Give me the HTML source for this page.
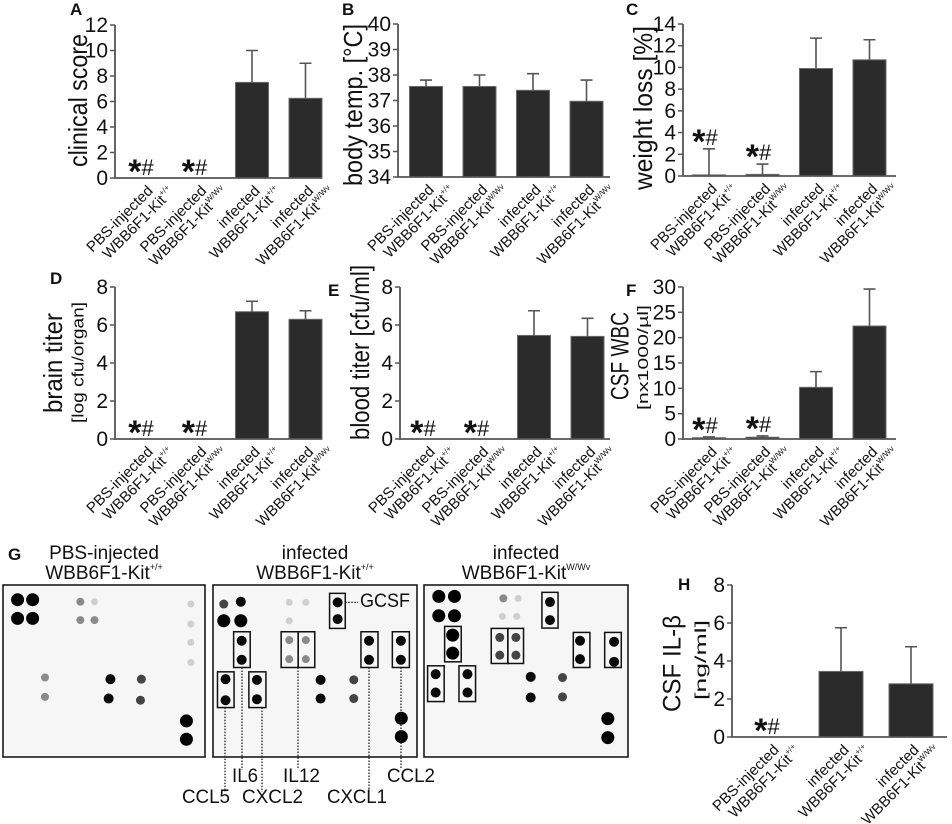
<!DOCTYPE html>
<html><head><meta charset="utf-8">
<style>
html,body{margin:0;padding:0;background:#fff;}
svg{display:block;font-family:"Liberation Sans",Arial,sans-serif;}
</style></head>
<body>
<svg id="fig" width="952" height="824" viewBox="0 0 952 824" xmlns="http://www.w3.org/2000/svg">
<rect x="0" y="0" width="952" height="824" fill="#ffffff"/>
</svg>
<script>
// ---- chart data ----
const groupLine1 = ["PBS-injected","PBS-injected","infected","infected"];
const groupSup = ["+/+","W/Wv","+/+","W/Wv"];
const hLine1 = ["PBS-injected","infected","infected"];
const hSup = ["+/+","+/+","W/Wv"];

const aValues = [0,0,7.5,6.25];
const aErrors = [0,0,10,9];
const aTicks = [0,2,4,6,8,10,12];
const aStars = [1,1,0,0];

const bValues = [37.55,37.55,37.4,36.97];
const bErrors = [37.8,38.0,38.05,37.8];
const bTicks = [34,35,36,37,38,39,40];
const bStars = [0,0,0,0];

const cValues = [0.1,0.15,9.9,10.7];
const cErrors = [2.5,1.1,12.7,12.55];
const cTicks = [0,2,4,6,8,10,12,14];
const cStars = [1,1,0,0];

const dValues = [0,0,6.7,6.3];
const dErrors = [0,0,7.25,6.75];
const dTicks = [0,2,4,6,8];
const dStars = [1,1,0,0];

const eValues = [0,0,5.45,5.4];
const eErrors = [0,0,6.75,6.35];
const eTicks = [0,2,4,6,8];
const eStars = [1,1,0,0];

const fValues = [0.25,0.35,10.2,22.3];
const fErrors = [0.4,0.6,13.3,29.6];
const fTicks = [0,5,10,15,20,25,30];
const fStars = [1,1,0,0];

const hValues = [0,3.45,2.8];
const hErrors = [0,5.75,4.75];
const hTicks = [0,2,4,6,8];
const hStars = [1,0,0];

const NS = "http://www.w3.org/2000/svg";
const svg = document.getElementById('fig');
function mk(tag, attrs, parent){
  const e = document.createElementNS(NS, tag);
  for (const k in attrs) e.setAttribute(k, attrs[k]);
  (parent||svg).appendChild(e);
  return e;
}
function txt(str, attrs, parent){
  const t = mk('text', attrs, parent);
  t.textContent = str;
  return t;
}
function vtitle(x, y1, y2, str, size, name){
  const cy = (y1+y2)/2;
  const t = txt(str, {x:0, y:0, 'font-size':size, 'text-anchor':'middle', fill:'#111',
    textLength:(y2-y1), lengthAdjust:'spacingAndGlyphs',
    transform:'translate('+x+','+cy+') rotate(-90)', 'dominant-baseline':'middle'});
  
  
}
function letter(x,y,s){
  const t = txt(s,{x:x,y:y,'font-size':17,'font-weight':'bold',fill:'#111'});
  
  
}

function panel(cfg, values, errors, ticks, stars, l1, sups){
  const g = mk('g', {});
  
  
  const min = ticks[0], max = ticks[ticks.length-1];
  const y = v => cfg.zero - (v - min) / (max - min) * (cfg.zero - cfg.top);
  const cx = i => cfg.c0 + i * cfg.step;
  values.forEach((v,i)=>{
    if (v > min){
      const r = mk('rect',{x:cx(i)-cfg.bw/2, y:y(v), width:cfg.bw, height:cfg.zero-y(v), fill:'#2b2b2b', stroke:'#6a6a6a','stroke-width':1}, g);
      
      
    }
    const e = errors[i];
    if (e > v){
      const eb = mk('path',{d:'M'+cx(i)+','+y(v)+'V'+y(e)+'M'+(cx(i)-6)+','+y(e)+'H'+(cx(i)+6), stroke:'#555','stroke-width':1.6, fill:'none'}, g);
      
      
    }
    if (stars[i]){
      const top = Math.max(v, e);
      const by = (top > min) ? y(top) - 4 : cfg.zero - 3;
      const st = mk('text',{x:cx(i)-4, y:by+8, 'text-anchor':'middle', fill:'#111'}, g);
      
      
      const s1 = mk('tspan',{'font-size':34,'font-weight':'bold'}, st); s1.textContent='*';
      const s2 = mk('tspan',{'font-size':22,dy:-8}, st); s2.textContent='#';
    }
  });
  const ax = mk('path',{d:'M'+cfg.ax+','+cfg.top+'V'+cfg.zero+'H'+cfg.end, stroke:'#555','stroke-width':1.8, fill:'none'}, g);
  
  
  ticks.forEach(t=>{
    mk('path',{d:'M'+(cfg.ax-5)+','+y(t)+'H'+cfg.ax, stroke:'#555','stroke-width':1.5}, g);
    const tl = txt(String(t),{x:cfg.ax-7, y:y(t)+7, 'font-size':21, 'text-anchor':'end', fill:'#111'}, g);
    
    
  });
  l1.forEach((s,i)=>{
    const lg = mk('g',{transform:'translate('+(cx(i)+6)+','+(cfg.zero+8)+') rotate(-45)'}, g);
    
    
    txt(s,{x:-2,y:6,'font-size':15,'text-anchor':'end',fill:'#111'}, lg);
    const t2 = mk('text',{x:12,y:22,'font-size':15,'text-anchor':'end',fill:'#111'}, lg);
    const a = mk('tspan',{}, t2); a.textContent='WBB6F1-Kit';
    const b = mk('tspan',{'font-size':8,dy:-7}, t2); b.textContent=sups[i];
  });
}

// Row 1
letter(70,15,'A'); vtitle(80,34,167,'clinical score',26,'y-axis-title-a');
panel({name:'panel-a-clinical-score',ax:115,top:25,zero:178,end:322,c0:145,step:53.5,bw:33}, aValues,aErrors,aTicks,aStars,groupLine1,groupSup);
letter(342,15,'B'); vtitle(355,24,186,'body temp. [°C]',26,'y-axis-title-b');
panel({name:'panel-b-body-temp',ax:398,top:24,zero:177,end:610,c0:426,step:53.5,bw:33}, bValues,bErrors,bTicks,bStars,groupLine1,groupSup);
letter(626,15,'C'); vtitle(645,26,190,'weight loss [%]',26,'y-axis-title-c');
panel({name:'panel-c-weight-loss',ax:683,top:24,zero:176,end:896,c0:709,step:53.5,bw:33}, cValues,cErrors,cTicks,cStars,groupLine1,groupSup);

// Row 2
letter(50,284,'D'); vtitle(55,313,413,'brain titer',26,'y-axis-title-d'); vtitle(79,302,423,'[log cfu/organ]',17,'y-axis-subtitle-d');
panel({name:'panel-d-brain-titer',ax:115,top:287,zero:439,end:322,c0:145,step:53.5,bw:33}, dValues,dErrors,dTicks,dStars,groupLine1,groupSup);
letter(328,296,'E'); vtitle(362,265,440,'blood titer [cfu/ml]',26,'y-axis-title-e');
panel({name:'panel-e-blood-titer',ax:400,top:287,zero:439,end:610,c0:427,step:53.5,bw:33}, eValues,eErrors,eTicks,eStars,groupLine1,groupSup);
letter(626,296,'F'); vtitle(622,312,400,'CSF WBC',25,'y-axis-title-f'); vtitle(644,305,410,'[nx1000/µl]',15,'y-axis-subtitle-f');
panel({name:'panel-f-csf-wbc',ax:683,top:287,zero:439,end:896,c0:709,step:53.5,bw:33}, fValues,fErrors,fTicks,fStars,groupLine1,groupSup);

// H
letter(678,590,'H'); vtitle(674,615,712,'CSF IL-β',25,'y-axis-title-h'); vtitle(702,620,700,'[ng/ml]',16,'y-axis-subtitle-h');
panel({name:'panel-h-csf-il1b',ax:732,top:585,zero:737,end:947,c0:771,step:70,bw:44}, hValues,hErrors,hTicks,hStars,hLine1,hSup);

// ---- G: cytokine array blots ----
letter(8,560,'G');
const blotTitles = [["PBS-injected","+/+",104],["infected","+/+",315],["infected","W/Wv",526]];
blotTitles.forEach(b=>{
  const t1 = txt(b[0],{x:b[2],y:559,'font-size':19,'text-anchor':'middle',fill:'#111'});
  
  
  const t2 = mk('text',{x:b[2],y:579,'font-size':19,'text-anchor':'middle',fill:'#111'});
  
  
  const a = mk('tspan',{},t2); a.textContent='WBB6F1-Kit';
  const s = mk('tspan',{'font-size':9,dy:-9},t2); s.textContent=b[1];
});
const boxes = [{x:3,w:202,zx:5,zw:457},{x:213,w:204,zx:478,zw:455},{x:424,w:204,zx:950,zw:455}];
const BY=585, BH=172, ZY=228, ZH=515;
const sx = (b,z)=> b.x + (z-b.zx)/b.zw*b.w;
const sy = z => BY + (z-ZY)/ZH*BH;
const dotStyles = {B:[6.5,'#000'],K:[5,'#0a0a0a'],D:[4.5,'#444'],G:[4,'#8a8a8a'],F:[3.5,'#cfcfcf']};
const blots = [
  [[38,272,'B'],[72,272,'B'],[38,328,'B'],[72,328,'B'],[180,278,'G'],[212,278,'F'],[180,333,'G'],[212,333,'G'],[430,285,'F'],[430,345,'F'],[430,400,'F'],[430,460,'F'],[100,505,'G'],[248,510,'K'],[318,510,'D'],[100,563,'G'],[244,568,'K'],[316,573,'D'],[420,635,'B'],[420,690,'B']],
  [[502,285,'D'],[540,278,'K'],[502,335,'B'],[540,335,'B'],[648,280,'F'],[685,280,'F'],[648,335,'F'],[756,280,'K'],[756,330,'K'],[542,395,'K'],[542,452,'K'],[648,393,'G'],[685,393,'G'],[648,450,'G'],[685,450,'G'],[826,395,'K'],[826,452,'K'],[897,395,'K'],[897,452,'K'],[506,510,'K'],[506,573,'K'],[576,512,'K'],[576,570,'K'],[718,512,'K'],[718,568,'K'],[792,512,'D'],[792,568,'D'],[898,627,'B'],[898,682,'B']],
  [[983,262,'B'],[1018,262,'B'],[983,320,'B'],[1018,320,'B'],[1127,268,'G'],[1160,268,'F'],[1125,322,'F'],[1157,322,'F'],[1231,279,'K'],[1231,333,'K'],[1014,378,'B'],[1014,432,'B'],[1119,385,'D'],[1155,385,'D'],[1119,438,'D'],[1155,438,'D'],[1298,395,'K'],[1298,450,'K'],[1374,398,'K'],[1374,458,'K'],[976,495,'K'],[976,550,'K'],[1047,495,'K'],[1047,550,'K'],[1188,503,'K'],[1188,565,'K'],[1259,505,'D'],[1259,563,'D'],[1360,628,'B'],[1360,685,'B']]
];
const marks = [
  [],
  [[738,253,773,358],[524,368,561,475],[630,368,668,475],[668,368,705,475],[808,368,846,475],[878,368,916,475],[488,488,525,595],[558,488,596,595]],
  [[1213,250,1249,357],[996,352,1033,458],[1100,358,1137,463],[1137,358,1172,463],[1283,370,1320,475],[1353,370,1390,475],[958,470,995,577],[1028,470,1065,577]]
];
const blotNames = ['blot-pbs-kit-wt','blot-infected-kit-wt','blot-infected-kit-wwv'];
boxes.forEach((b,bi)=>{
  const g = mk('g',{});
  
  
  mk('rect',{x:b.x,y:BY,width:b.w,height:BH,fill:'#f6f6f6',stroke:'#1a1a1a','stroke-width':1.6},g);
  blots[bi].forEach(d=>{
    const st = dotStyles[d[2]];
    const c = mk('circle',{cx:sx(b,d[0]),cy:sy(d[1]),r:st[0],fill:st[1]},g);
    
    
  });
  marks[bi].forEach(m=>{
    const r = mk('rect',{x:sx(b,m[0]),y:sy(m[1]),width:sx(b,m[2])-sx(b,m[0]),height:sy(m[3])-sy(m[1]),fill:'none',stroke:'#111','stroke-width':1.5},g);
    
    
  });
});
const leaders = [[225,sy(595),792],[242,sy(475),770],[262,sy(595),792],[298,sy(475),768],[369,sy(475),792],[401,sy(475),768]];
leaders.forEach(l=>{
  const p = mk('path',{d:'M'+l[0]+','+l[1]+'V'+l[2],stroke:'#222','stroke-width':1.3,'stroke-dasharray':'1.5,1.5',fill:'none'});
  
  
});
const gx = sx(boxes[1],773);
const gl = mk('path',{d:'M'+gx+','+sy(280)+'H358',stroke:'#222','stroke-width':1.3,'stroke-dasharray':'1.5,1.5'});


const cytoLabels = [["GCSF",360,607,50],["IL6",232,782,26],["IL12",283,782,37],["CCL2",387,782,48],["CCL5",182,803,48],["CXCL2",242,803,61],["CXCL1",327,803,60]];
cytoLabels.forEach(c=>{
  const t = txt(c[0],{x:c[1],y:c[2],'font-size':19,fill:'#111',textLength:c[3],lengthAdjust:'spacingAndGlyphs'});
  
  
});
</script>
</body></html>
